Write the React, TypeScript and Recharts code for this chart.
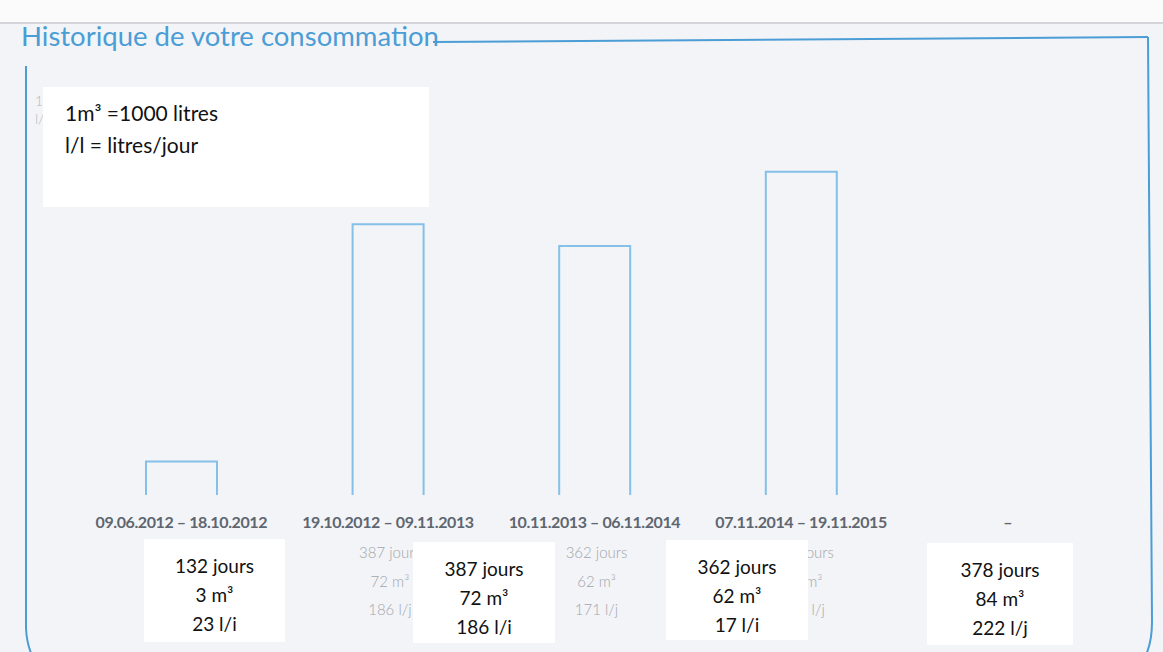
import { Bar, BarChart, XAxis, YAxis } from "recharts";

// periods shown under the bars (the last slot is empty on the statement)
const periodes = [
  "09.06.2012 – 18.10.2012",
  "19.10.2012 – 09.11.2013",
  "10.11.2013 – 06.11.2014",
  "07.11.2014 – 19.11.2015",
  "–",
];
// bar height = litres per day
const litresJour = [23, 186, 171, 222, null];

// grey printed lines under each period (first one is fully covered by a note)
const joursImprimes = ["", "387 jours", "362 jours", "378 jours", ""];
const m3Imprimes = ["", "72 m³", "62 m³", "84 m³", ""];
const ljImprimes = ["", "186 l/j", "171 l/j", "222 l/j", ""];

// hand-pasted white notes
const noteJours = ["132 jours", "387 jours", "362 jours", "378 jours"];
const noteM3 = ["3 m³", "72 m³", "62 m³", "84 m³"];
const noteLj = ["23 l/i", "186 l/i", "17 l/i", "222 l/j"];
const legendLines = ["1m³ =1000 litres", "l/l = litres/jour"];
// what is left visible of the printed legend behind the note
const legendImprime = ["1", "l/"];

const noteBoxes = [
  { left: 144, top: 539, width: 141, height: 103 },
  { left: 413, top: 542, width: 142, height: 101 },
  { left: 666, top: 540, width: 142, height: 100 },
  { left: 927, top: 543, width: 146, height: 102 },
];

const data = periodes.map((periode, i) => ({
  periode,
  lj: litresJour[i],
  jours: joursImprimes[i],
  m3: m3Imprimes[i],
  ljTxt: ljImprimes[i],
}));

const BLUE = "#4b9dd6";
const BAR_BLUE = "#84c0e7";

function OpenBar(props: any) {
  const { x, y, width, height } = props;
  if (!height) return null;
  return (
    <path
      d={`M${x},${y + height} L${x},${y} L${x + width},${y} L${x + width},${y + height}`}
      fill="none"
      stroke={BAR_BLUE}
      strokeWidth={2}
    />
  );
}

function PeriodTick(props: any) {
  const { x, y, payload, index } = props;
  const row = data[index] ?? data.find((d) => d.periode === payload.value);
  return (
    <g>
      <text
        x={x}
        y={y + 33}
        textAnchor="middle"
        fontFamily="Lato"
        fontWeight={700}
        fontSize={16}
        letterSpacing={-0.4}
        fill="#5e6670"
      >
        {payload.value}
      </text>
      {row && row.jours && (
        <g fontFamily="Lato" fontWeight={300} fontSize={15} fill="#a2a6ad" textAnchor="middle">
          <text x={x + 2} y={y + 63}>{row.jours}</text>
          <text x={x + 2} y={y + 92}>{row.m3}</text>
          <text x={x + 2} y={y + 120}>{row.ljTxt}</text>
        </g>
      )}
    </g>
  );
}

export default function App() {
  return (
    <div
      style={{
        position: "absolute",
        left: 0,
        top: 0,
        width: 1163,
        height: 652,
        overflow: "hidden",
        background: "#f3f4f7",
        fontFamily: "Lato",
      }}
    >
      {/* scan top edge */}
      <div style={{ position: "absolute", left: 0, top: 0, width: 1163, height: 22, background: "#fbfbfc" }} />
      <div style={{ position: "absolute", left: 0, top: 22, width: 1163, height: 2, background: "#d4d5da" }} />

      {/* faint print peeking out from under the legend note */}
      <div style={{ position: "absolute", left: 35, top: 92, fontSize: 14, lineHeight: "18px", color: "#b4b8be", fontWeight: 300 }}>
        {legendImprime.map((t) => (
          <div key={t}>{t}</div>
        ))}
      </div>

      <div style={{ position: "absolute", left: 0, top: 0 }}>
        <BarChart
          width={1163}
          height={652}
          data={data}
          margin={{ top: 131, right: 52, left: 78, bottom: 0 }}
          barSize={71}
        >
          <XAxis
            dataKey="periode"
            height={157}
            axisLine={false}
            tickLine={false}
            tickSize={0}
            tickMargin={0}
            interval={0}
            tick={<PeriodTick />}
          />
          <YAxis hide domain={[0, 250]} />
          <Bar dataKey="lj" shape={<OpenBar />} isAnimationActive={false} />
        </BarChart>
      </div>

      {/* frame + title */}
      <svg width={1163} height={652} style={{ position: "absolute", left: 0, top: 0 }}>
        <path d="M433,42 L1148,37" stroke={BLUE} strokeWidth={2} fill="none" />
        <path d="M1148,37 L1152,622 Q1152,648 1141,664" stroke={BLUE} strokeWidth={2} fill="none" />
        <path d="M26,66 L26,628 Q27,650 37,664" stroke={BLUE} strokeWidth={2} fill="none" />
        <text x={21} y={46} fontFamily="Lato" fontSize={27.5} fill={BLUE}>
          Historique de votre consommation
        </text>
      </svg>

      {/* legend note */}
      <div
        style={{
          position: "absolute",
          left: 43,
          top: 87,
          width: 386,
          height: 120,
          background: "#ffffff",
          boxSizing: "border-box",
          paddingLeft: 22,
          paddingTop: 10,
          fontSize: 21,
          lineHeight: "32px",
          color: "#111",
        }}
      >
        {legendLines.map((l) => (
          <div key={l}>{l}</div>
        ))}
      </div>

      {noteBoxes.map((b, i) => (
        <div
          key={i}
          style={{
            position: "absolute",
            ...b,
            background: "#ffffff",
            boxSizing: "border-box",
            paddingTop: 12,
            textAlign: "center",
            fontSize: 19,
            lineHeight: "29px",
            color: "#111",
          }}
        >
          <div>{noteJours[i]}</div>
          <div>{noteM3[i]}</div>
          <div>{noteLj[i]}</div>
        </div>
      ))}
    </div>
  );
}
